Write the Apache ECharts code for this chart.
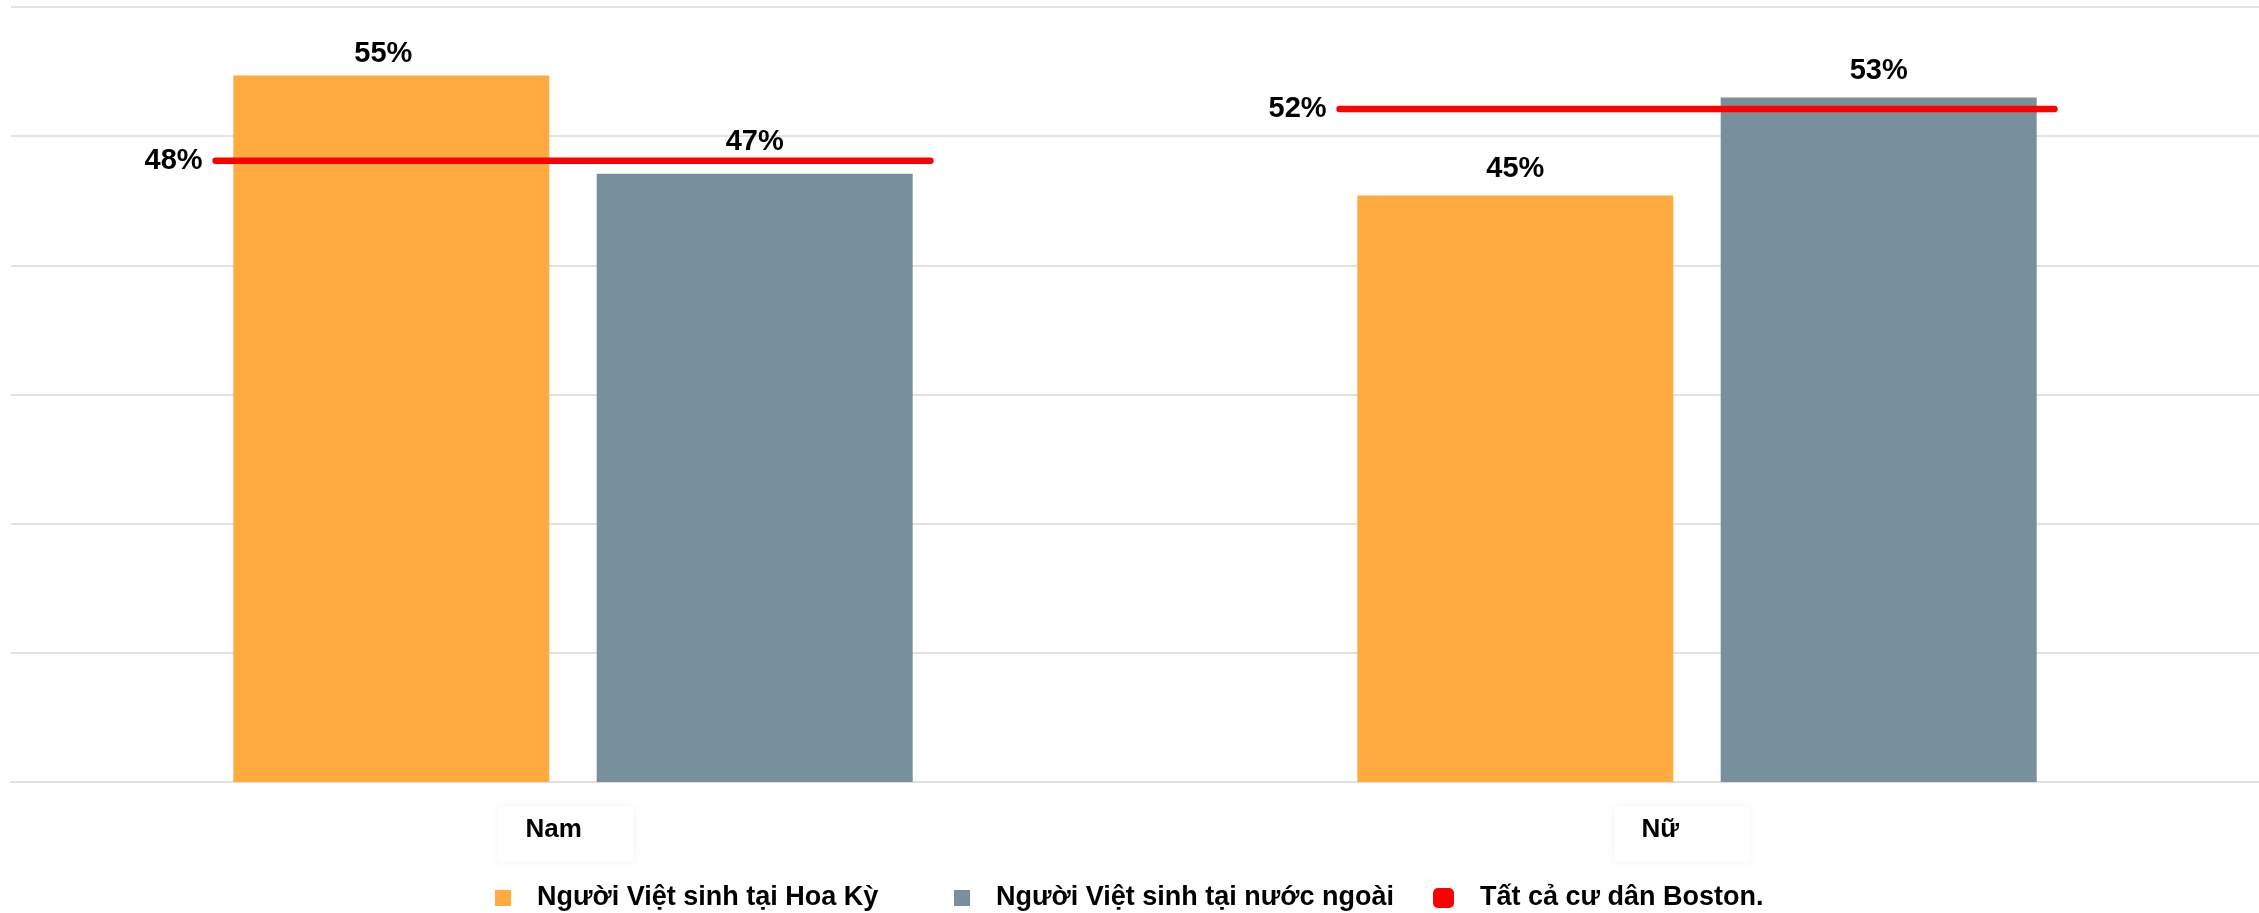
<!DOCTYPE html>
<html>
<head>
<meta charset="utf-8">
<script src="https://cdn.jsdelivr.net/npm/echarts@6/dist/echarts.min.js"></script>
<style>
  html, body { margin: 0; padding: 0; background: #fff; }
  #chart { width: 2259px; height: 913px; }
</style>
</head>
<body>
<div id="chart"></div>
<script>
const categories = ['Nam', 'Nữ'];
const seriesNames = ['Người Việt sinh tại Hoa Kỳ', 'Người Việt sinh tại nước ngoài', 'Tất cả cư dân Boston.'];
const usBorn = [54.7, 45.4];
const foreignBorn = [47.1, 53.0];
const allBoston = [48.1, 52.1];

const FONT = '"Liberation Sans", Arial, sans-serif';
const chart = echarts.init(document.getElementById('chart'), null, { renderer: 'canvas' });

const barLabel = {
  show: true,
  position: 'top',
  distance: 7,
  formatter: p => Math.round(p.value) + '%',
  color: '#000',
  fontFamily: FONT,
  fontWeight: 'bold',
  fontSize: 29
};

// per-bar label placement as in the reference (labels nudged to avoid the red line)
const usLabelTweak = [{ distance: 7, offset: [-8, 0] }, { distance: 12 }];
const fbLabelTweak = [{ distance: 17 }, { distance: 12 }];

function legendAt(left, name, icon, w, h) {
  return {
    data: [{ name: name, icon: icon }],
    left: left,
    top: 884,
    padding: 0,
    itemWidth: w,
    itemHeight: h,
    selectedMode: false,
    textStyle: {
      color: '#000',
      fontFamily: FONT,
      fontWeight: 'bold',
      fontSize: 27,
      lineHeight: 28,
      padding: [0, 0, 0, 21]
    }
  };
}

const tokenBase = {
  color: '#000',
  fontFamily: FONT,
  fontWeight: 'bold',
  fontSize: 26,
  lineHeight: 30
};

const option = {
  animation: false,
  backgroundColor: '#fff',
  grid: { left: 11, right: 0, top: 7, bottom: 131, containLabel: false },
  legend: [
    legendAt(495, seriesNames[0], 'rect', 16, 16),
    legendAt(954, seriesNames[1], 'rect', 16, 16),
    legendAt(1433, seriesNames[2], 'roundRect', 21, 20)
  ],
  xAxis: {
    type: 'category',
    data: categories,
    axisTick: { show: false },
    axisLine: { show: true, lineStyle: { color: '#e0e0e0', width: 2 } },
    axisLabel: {
      margin: 37,
      formatter: (v, i) => '{t|' + v + '}{s' + i + '| }',
      rich: {
        t: Object.assign({}, tokenBase, {
          width: 108,
          align: 'left',
          backgroundColor: '#fff',
          padding: [10, 0, 19, 27],
          borderRadius: 4,
          shadowBlur: 10,
          shadowColor: 'rgba(0,0,0,0.06)'
        }),
        s0: Object.assign({}, tokenBase, { width: 14 }),
        s1: Object.assign({}, tokenBase, { width: 30 })
      }
    }
  },
  yAxis: {
    type: 'value',
    min: 0,
    max: 60,
    interval: 10,
    axisLabel: { show: false },
    axisLine: { show: false },
    axisTick: { show: false },
    splitLine: { lineStyle: { color: '#e2e2e2', width: 2 } }
  },
  series: [
    {
      name: seriesNames[0],
      type: 'bar',
      data: usBorn.map((v, i) => ({ value: v, label: usLabelTweak[i] })),
      barWidth: 316,
      barGap: '15%',
      itemStyle: { color: '#FFAB40' },
      label: barLabel
    },
    {
      name: seriesNames[1],
      type: 'bar',
      data: foreignBorn.map((v, i) => ({ value: v, label: fbLabelTweak[i] })),
      barWidth: 316,
      barGap: '15%',
      itemStyle: { color: '#78909C' },
      label: barLabel
    },
    {
      name: seriesNames[2],
      type: 'custom',
      itemStyle: { color: '#FF0000' },
      encode: { x: 0, y: 1 },
      data: allBoston.map((v, i) => [i, v]),
      z: 5,
      renderItem: function (params, api) {
        const c = api.coord([api.value(0), api.value(1)]);
        const bw = api.size([1, 0])[0];
        const half = bw * 0.318;
        return {
          type: 'group',
          children: [
            {
              type: 'line',
              shape: { x1: c[0] - half, y1: c[1], x2: c[0] + half, y2: c[1] },
              style: { stroke: '#FF0000', lineWidth: 6.5, lineCap: 'round' }
            },
            {
              type: 'text',
              x: c[0] - half - 13,
              y: c[1],
              style: {
                text: Math.round(api.value(1)) + '%',
                align: 'right',
                verticalAlign: 'middle',
                font: 'bold 29px ' + FONT,
                fill: '#000'
              }
            }
          ]
        };
      }
    }
  ]
};
chart.setOption(option);
</script>
</body>
</html>
